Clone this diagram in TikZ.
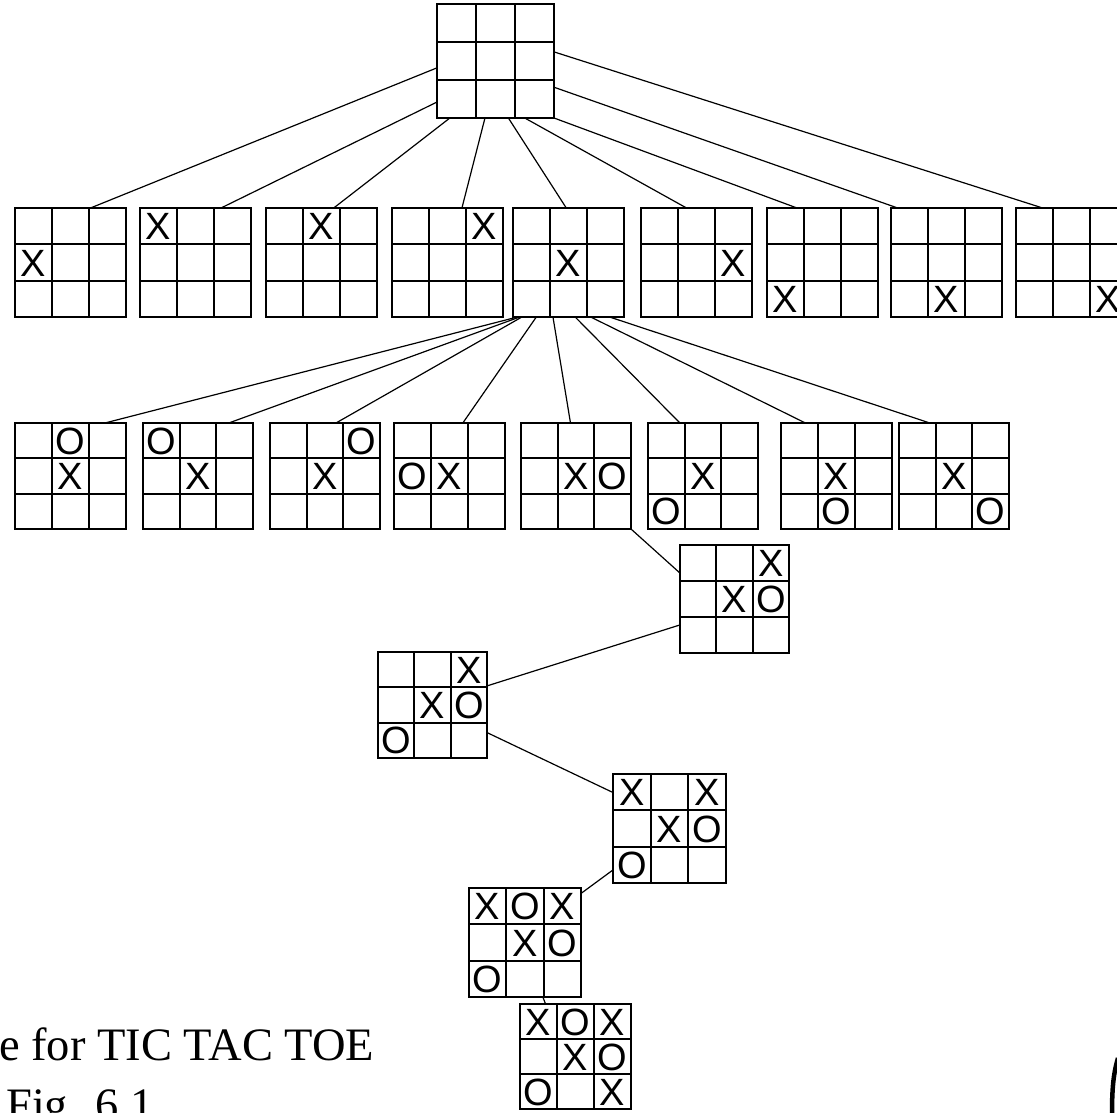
\documentclass[tikz,border=0pt]{standalone}
\usepackage{fontspec}
\setmainfont{Liberation Serif}
\newfontfamily\markfont{Liberation Sans}
\usetikzlibrary{calc}
\tikzset{
  board/.style={draw, line width=1.8pt, inner sep=0pt, outer sep=0pt, anchor=north west},
  gridline/.style={line width=1.8pt},
  conn/.style={line width=1.2pt},
  mk/.style={inner sep=0pt, text height=27.2pt, text depth=0pt, font=\markfont\fontsize{38}{38}\selectfont},
  caption/.style={inner sep=0pt, anchor=base west, font=\fontsize{46.5}{50}\selectfont},
}
\newcommand\tttboard[6]{%
  \node[board, minimum width=#4pt, minimum height=#5pt] (#1) at (#2,#3) {};
  \draw[gridline] ($(#1.north west)!1/3!(#1.north east)$) -- ($(#1.south west)!1/3!(#1.south east)$)
    ($(#1.north west)!2/3!(#1.north east)$) -- ($(#1.south west)!2/3!(#1.south east)$)
    ($(#1.north west)!1/3!(#1.south west)$) -- ($(#1.north east)!1/3!(#1.south east)$)
    ($(#1.north west)!2/3!(#1.south west)$) -- ($(#1.north east)!2/3!(#1.south east)$);
  \def\tttmarks{#6}%
  \ifx\tttmarks\empty\else
  \foreach \c/\r/\m in {#6} {
    \node[mk] (#1-\c-\r) at ($(#1.north west)+({(\c-0.5)*#4/3},{(\r-0.5)*#5/3})$) {\m};
  }%
  \fi
}
\begin{document}
\begin{tikzpicture}[x=1pt,y=-1pt]
\useasboundingbox (0,0) rectangle (1117,1113);
\clip (0,0) rectangle (1117,1113);
% root
\tttboard{T}{437}{4}{117}{114}{}
% level 1
\tttboard{b1}{15}{208}{111}{109}{1/2/X}
\tttboard{b2}{140}{208}{111}{109}{1/1/X}
\tttboard{b3}{266}{208}{111}{109}{2/1/X}
\tttboard{b4}{392}{208}{111}{109}{3/1/X}
\tttboard{b5}{513}{208}{111}{109}{2/2/X}
\tttboard{b6}{641}{208}{111}{109}{3/2/X}
\tttboard{b7}{767}{208}{111}{109}{1/3/X}
\tttboard{b8}{891}{208}{111}{109}{2/3/X}
\tttboard{b9}{1016}{208}{111}{109}{3/3/X}
% level 2
\tttboard{cA}{15}{423}{111}{106}{2/2/X,2/1/O}
\tttboard{cB}{143}{423}{110}{106}{2/2/X,1/1/O}
\tttboard{cC}{270}{423}{110}{106}{2/2/X,3/1/O}
\tttboard{cD}{394}{423}{111}{106}{2/2/X,1/2/O}
\tttboard{cE}{521}{423}{110}{106}{2/2/X,3/2/O}
\tttboard{cF}{648}{423}{110}{106}{2/2/X,1/3/O}
\tttboard{cG}{781}{423}{111}{106}{2/2/X,2/3/O}
\tttboard{cH}{899}{423}{110}{106}{2/2/X,3/3/O}
% chain
\tttboard{p1}{680}{545}{109}{108}{3/1/X,2/2/X,3/2/O}
\tttboard{p2}{378}{652}{109}{106}{3/1/X,2/2/X,3/2/O,1/3/O}
\tttboard{p3}{613}{774}{113}{109}{1/1/X,3/1/X,2/2/X,3/2/O,1/3/O}
\tttboard{p4}{469}{888}{112}{109}{1/1/X,2/1/O,3/1/X,2/2/X,3/2/O,1/3/O}
\tttboard{p5}{520}{1004}{111}{105}{1/1/X,2/1/O,3/1/X,2/2/X,3/2/O,1/3/O,3/3/X}
% root -> level 1
\draw[conn] ($(T.north west)!0.56!(T.south west)$) -- ($(b1.north west)!0.68!(b1.north east)$);
\draw[conn] ($(T.north west)!0.86!(T.south west)$) -- ($(b2.north west)!0.73!(b2.north east)$);
\draw[conn] ($(T.south west)!0.11!(T.south east)$) -- ($(b3.north west)!0.61!(b3.north east)$);
\draw[conn] ($(T.south west)!0.41!(T.south east)$) -- ($(b4.north west)!0.63!(b4.north east)$);
\draw[conn] ($(T.south west)!0.61!(T.south east)$) -- ($(b5.north west)!0.48!(b5.north east)$);
\draw[conn] ($(T.south west)!0.75!(T.south east)$) -- ($(b6.north west)!0.41!(b6.north east)$);
\draw[conn] (T.south east) -- ($(b7.north west)!0.27!(b7.north east)$);
\draw[conn] ($(T.north east)!0.73!(T.south east)$) -- ($(b8.north west)!0.06!(b8.north east)$);
\draw[conn] ($(T.north east)!0.42!(T.south east)$) -- ($(b9.north west)!0.24!(b9.north east)$);
% b5 -> level 2
\draw[conn] ($(b5.south west)!0.04!(b5.south east)$) -- ($(cA.north west)!0.81!(cA.north east)$);
\draw[conn] ($(b5.south west)!0.06!(b5.south east)$) -- ($(cB.north west)!0.78!(cB.north east)$);
\draw[conn] ($(b5.south west)!0.08!(b5.south east)$) -- ($(cC.north west)!0.60!(cC.north east)$);
\draw[conn] ($(b5.south west)!0.21!(b5.south east)$) -- ($(cD.north west)!0.62!(cD.north east)$);
\draw[conn] ($(b5.south west)!0.36!(b5.south east)$) -- ($(cE.north west)!0.45!(cE.north east)$);
\draw[conn] ($(b5.south west)!0.56!(b5.south east)$) -- ($(cF.north west)!0.29!(cF.north east)$);
\draw[conn] ($(b5.south west)!0.70!(b5.south east)$) -- ($(cG.north west)!0.22!(cG.north east)$);
\draw[conn] ($(b5.south west)!0.87!(b5.south east)$) -- ($(cH.north west)!0.28!(cH.north east)$);
% chain connectors
\draw[conn] (cE.south east) -- ($(p1.north west)!0.26!(p1.south west)$);
\draw[conn] ($(p1.north west)!0.74!(p1.south west)$) -- ($(p2.north east)!0.32!(p2.south east)$);
\draw[conn] ($(p2.north east)!0.76!(p2.south east)$) -- ($(p3.north west)!0.17!(p3.south west)$);
\draw[conn] ($(p3.north west)!0.88!(p3.south west)$) -- ($(p4.north east)!0.05!(p4.south east)$);
\draw[conn] ($(p4.south west)!0.66!(p4.south east)$) -- ($(p5.north west)!0.23!(p5.north east)$);
% caption
\node[caption] (cap1) at (-1,1060) {e for TIC TAC TOE};
\node[caption] (cap2) at (6,1120) {Fig. 6.1};
% partial arc at the corner
\draw[line width=4.5pt] (1118,1058) .. controls (1113,1075) and (1112,1090) .. (1112,1116);
\end{tikzpicture}
\end{document}
